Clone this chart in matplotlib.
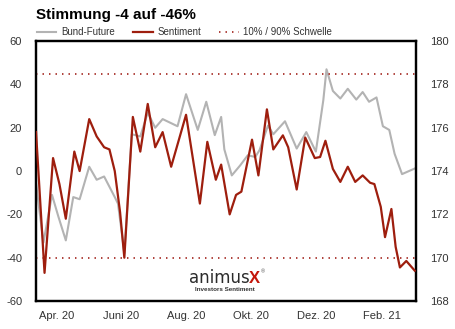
import matplotlib
matplotlib.use("Agg")
import matplotlib.pyplot as plt
import pandas as pd

# Sentiment (linke Achse, %)
sent_dates = ["2020-03-13", "2020-03-21", "2020-03-29", "2020-04-04", "2020-04-10",
              "2020-04-18", "2020-04-23", "2020-05-02", "2020-05-09", "2020-05-16",
              "2020-05-21", "2020-05-26", "2020-05-31", "2020-06-04", "2020-06-12",
              "2020-06-19", "2020-06-26", "2020-07-03", "2020-07-10", "2020-07-18",
              "2020-08-01", "2020-08-14", "2020-08-21", "2020-08-29", "2020-09-03",
              "2020-09-11", "2020-09-17", "2020-09-22", "2020-10-02", "2020-10-08",
              "2020-10-16", "2020-10-22", "2020-10-31", "2020-11-05", "2020-11-13",
              "2020-11-21", "2020-11-30", "2020-12-05", "2020-12-10", "2020-12-17",
              "2020-12-24", "2020-12-31", "2021-01-07", "2021-01-14", "2021-01-21",
              "2021-01-25", "2021-01-31", "2021-02-04", "2021-02-10", "2021-02-14",
              "2021-02-18", "2021-02-24", "2021-03-04"]
sentiment = [18, -47, 6, -6, -22,
             9, 0, 24, 16, 11,
             10, 0, -19, -40, 25,
             9, 31, 11, 18, 2,
             26, -15, 13.5, -4, 3,
             -20, -11, -9.5, 14.5, -2,
             28.5, 10, 16.5, 11, -8.5,
             15.5, 6, 6.5, 14, 1,
             -5, 2, -5, -2, -5.4,
             -6, -16.5, -30.5, -17.5, -35,
             -44.5, -41.5, -46]

# Bund-Future (rechte Achse)
bund_dates = ["2020-03-13", "2020-03-20", "2020-03-28", "2020-04-03", "2020-04-10",
              "2020-04-17", "2020-04-23", "2020-05-02", "2020-05-09", "2020-05-16",
              "2020-05-26", "2020-05-29", "2020-06-02", "2020-06-04", "2020-06-11",
              "2020-06-19", "2020-06-26", "2020-07-03", "2020-07-10", "2020-07-24",
              "2020-08-01", "2020-08-12", "2020-08-20", "2020-08-28", "2020-09-03",
              "2020-09-06", "2020-09-13", "2020-09-21", "2020-09-28", "2020-10-05",
              "2020-10-09", "2020-10-17", "2020-10-22", "2020-11-02", "2020-11-13",
              "2020-11-22", "2020-12-01", "2020-12-08", "2020-12-11", "2020-12-17",
              "2020-12-24", "2020-12-31", "2021-01-08", "2021-01-14", "2021-01-20",
              "2021-01-27", "2021-02-02", "2021-02-08", "2021-02-13", "2021-02-20",
              "2021-03-04"]
bund = [173.43, 170.70, 172.90, 171.90, 170.80,
        172.80, 172.70, 174.20, 173.60, 173.75,
        172.80, 172.50, 171.00, 170.20, 175.70,
        175.60, 176.70, 176.00, 176.40, 176.07,
        177.55, 175.90, 177.20, 175.66, 176.50,
        175.00, 173.80, 174.27, 174.73, 174.65,
        174.96, 176.10, 175.70, 176.30, 175.04,
        175.80, 174.90, 177.27, 178.70, 177.70,
        177.35, 177.80, 177.30, 177.65, 177.20,
        177.40, 176.07, 175.90, 174.80, 173.86,
        174.12]

thresholds = [45, -40]
tick_dates = ["2020-04-01", "2020-06-01", "2020-08-01", "2020-10-01", "2020-12-01", "2021-02-01"]
tick_labels = ["Apr. 20", "Juni 20", "Aug. 20", "Okt. 20", "Dez. 20", "Feb. 21"]

RED = "#9e1e0e"
GRAY = "#b3b3b3"
TXT = "#333333"

plt.rcParams['font.family'] = ['Liberation Sans', 'DejaVu Sans']
plt.rcParams['axes.unicode_minus'] = False

fig = plt.figure(figsize=(4.56, 3.29), dpi=100)
ax = fig.add_axes([0.079, 0.085, 0.833, 0.79])
ax2 = ax.twinx()

ax2.plot(pd.to_datetime(bund_dates), bund, color=GRAY, lw=1.5, zorder=2)
ax.plot(pd.to_datetime(sent_dates), sentiment, color=RED, lw=1.6, zorder=3)
for t in thresholds:
    ax.axhline(t, color="#a8302a", lw=1.3, ls=(0, (0.8, 2.8)), zorder=1)

ax.set_zorder(ax2.get_zorder() + 1)
ax.patch.set_visible(False)

ax.set_ylim(-60, 60)
ax.set_yticks(range(-60, 61, 20))
ax2.set_ylim(168, 180)
ax2.set_yticks(range(168, 181, 2))
ax.set_xlim(pd.Timestamp("2020-03-13"), pd.Timestamp("2021-03-05"))
ax.set_xticks(pd.to_datetime(tick_dates))
ax.set_xticklabels(tick_labels)

for a in (ax, ax2):
    a.tick_params(length=0, labelsize=8, labelcolor=TXT, pad=10)
    for s in a.spines.values():
        s.set_linewidth(1.6)
        s.set_color("black")
ax.tick_params(axis="x", pad=7)

fig.text(0.079, 0.955, "Stimmung -4 auf -46%", fontsize=11, fontweight="bold",
         ha="left", va="center")

# Legende
leg_handles = [
    plt.Line2D([], [], color=GRAY, lw=1.5),
    plt.Line2D([], [], color=RED, lw=1.6),
    plt.Line2D([], [], color="#a8302a", lw=1.3, ls=(0, (0.8, 2.8))),
]
fig.legend(leg_handles, ["Bund-Future", "Sentiment", "10% / 90% Schwelle"],
           loc="center left", bbox_to_anchor=(0.062, 0.902), ncol=3, frameon=False,
           fontsize=7, handlelength=2.0, handletextpad=0.5, columnspacing=1.85,
           labelcolor=TXT)

# Logo
ax.text(0.563, 0.068, "animus", transform=ax.transAxes, fontsize=12, color="#2b2b2b",
        family="DejaVu Sans", fontweight="normal", ha="right", va="baseline")
ax.text(0.561, 0.068, "X", transform=ax.transAxes, fontsize=12, color="#c4160a",
        fontweight="bold", ha="left", va="baseline")
ax.text(0.592, 0.105, "®", transform=ax.transAxes, fontsize=4, color="#555555",
        ha="left", va="baseline")
ax.text(0.497, 0.043, "Investors Sentiment", transform=ax.transAxes, fontsize=4.5,
        color="#333333", fontweight="bold", ha="center", va="center")

fig.savefig("out.png", dpi=100)
